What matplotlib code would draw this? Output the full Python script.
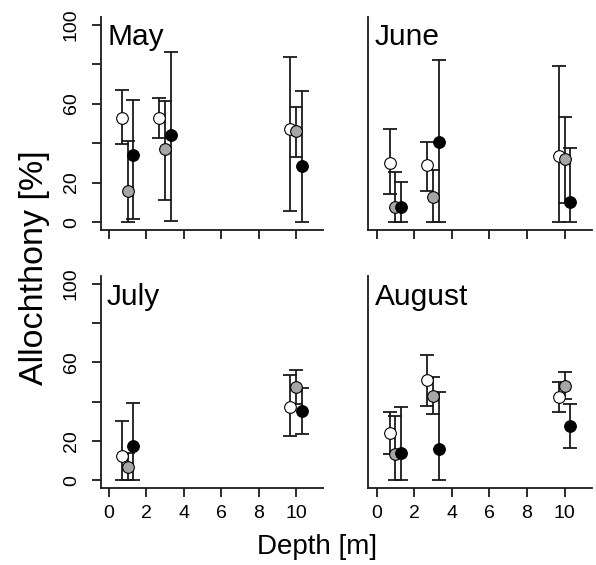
import numpy as np
import matplotlib
matplotlib.use('Agg')
import matplotlib.pyplot as plt

plt.rcParams['font.family'] = ['Liberation Sans', 'DejaVu Sans']

nan = np.nan
months = ['May', 'June', 'July', 'August']
depths = [1, 3, 10]
series_offsets = [-0.3, 0.0, 0.3]
series_colors = ['white', '#a6a6a6', 'black']
yticks = [0, 20, 40, 60, 80, 100]
ytick_labels = ['0', '20', '', '60', '', '100']
xticks = [0, 2, 4, 6, 8, 10]

# rows: white, gray, black series; columns: depths 1, 3, 10 m
may_mean = [[52.6, 52.6, 47.0], [15.6, 37.1, 46.1], [34.2, 44.1, 28.3]]
may_low = [[39.3, 42.4, 5.4], [0.0, 11.3, 33.1], [1.7, 0.7, 0.0]]
may_high = [[66.8, 62.6, 83.5], [41.0, 61.4, 58.3], [61.7, 86.0, 66.2]]

june_mean = [[30.0, 28.7, 33.7], [7.4, 12.7, 31.7], [7.4, 40.5, 10.0]]
june_low = [[14.2, 15.9, 0.0], [0.0, 0.0, 9.7], [0.0, 0.0, 0.0]]
june_high = [[47.0, 40.7, 79.2], [25.4, 26.3, 53.2], [20.4, 82.2, 37.7]]

july_mean = [[12.2, nan, 37.4], [6.5, nan, 47.6], [17.3, nan, 35.2]]
july_low = [[0.0, nan, 22.4], [0.0, nan, 38.6], [0.0, nan, 23.3]]
july_high = [[30.1, nan, 53.6], [14.0, nan, 56.1], [39.1, nan, 46.8]]

aug_mean = [[23.8, 51.0, 42.2], [13.3, 42.9, 48.1], [14.1, 15.8, 27.7]]
aug_low = [[13.3, 37.8, 34.5], [0.0, 33.7, 41.3], [0.0, 0.0, 16.2]]
aug_high = [[34.9, 63.8, 49.8], [32.7, 52.4, 54.9], [37.1, 45.1, 38.8]]

means = [may_mean, june_mean, july_mean, aug_mean]
lows = [may_low, june_low, july_low, aug_low]
highs = [may_high, june_high, july_high, aug_high]

W, H = 596, 565
fig = plt.figure(figsize=(W / 100, H / 100), dpi=100)

# axes rectangles in pixels: left, right, top, bottom
rects = [(100.7, 323.0, 16.7, 230.0), (368.3, 591.7, 16.7, 230.0),
         (100.7, 323.0, 276.2, 488.0), (368.3, 591.7, 276.2, 488.0)]

ecol = '#1a1a1a'
for i, (l, r, t, b) in enumerate(rects):
    ax = fig.add_axes([l / W, 1 - b / H, (r - l) / W, (b - t) / H])
    ax.set_xlim(-0.44, 11.44)
    ax.set_ylim(-4, 104)
    m = np.array(means[i]); lo = np.array(lows[i]); hi = np.array(highs[i])
    for s in range(3):
        x = np.array(depths) + series_offsets[s]
        ax.errorbar(x, m[s], yerr=[m[s] - lo[s], hi[s] - m[s]], fmt='none',
                    ecolor=ecol, elinewidth=1.3, capsize=5.0, capthick=1.3, zorder=2)
    for s in range(3):
        x = np.array(depths) + series_offsets[s]
        ax.plot(x, m[s], 'o', ms=8.4, mfc=series_colors[s], mec='black',
                mew=0.8, ls='none', zorder=3)
    for side in ['top', 'right']:
        ax.spines[side].set_visible(False)
    for side in ['left', 'bottom']:
        ax.spines[side].set_linewidth(1.3)
        ax.spines[side].set_color(ecol)
    ax.set_xticks(xticks)
    ax.tick_params(axis='x', direction='out', length=6.5, width=1.3,
                   color=ecol, labelsize=14, pad=5.5)
    ax.tick_params(axis='y', direction='out', length=6.5, width=1.3,
                   color=ecol, labelsize=14, pad=8.5)
    if i >= 2:
        ax.set_xticklabels([str(v) for v in xticks])
    else:
        ax.set_xticklabels([])
    if i % 2 == 0:
        ax.set_yticks(yticks)
        ax.set_yticklabels(ytick_labels, rotation=90, va='center')
    else:
        ax.set_yticks([])
    ax.text(-0.1, 89.5, months[i], fontsize=21.5, ha='left', va='baseline')
    ax.patch.set_visible(False)

fig.text(317 / W, 1 - 547 / H, 'Depth [m]', fontsize=20, ha='center', va='center')
fig.text(35 / W, 1 - 268 / H, 'Allochthony [%]', fontsize=24.5, ha='center',
         va='center', rotation=90)

fig.savefig('out.png', dpi=100)
